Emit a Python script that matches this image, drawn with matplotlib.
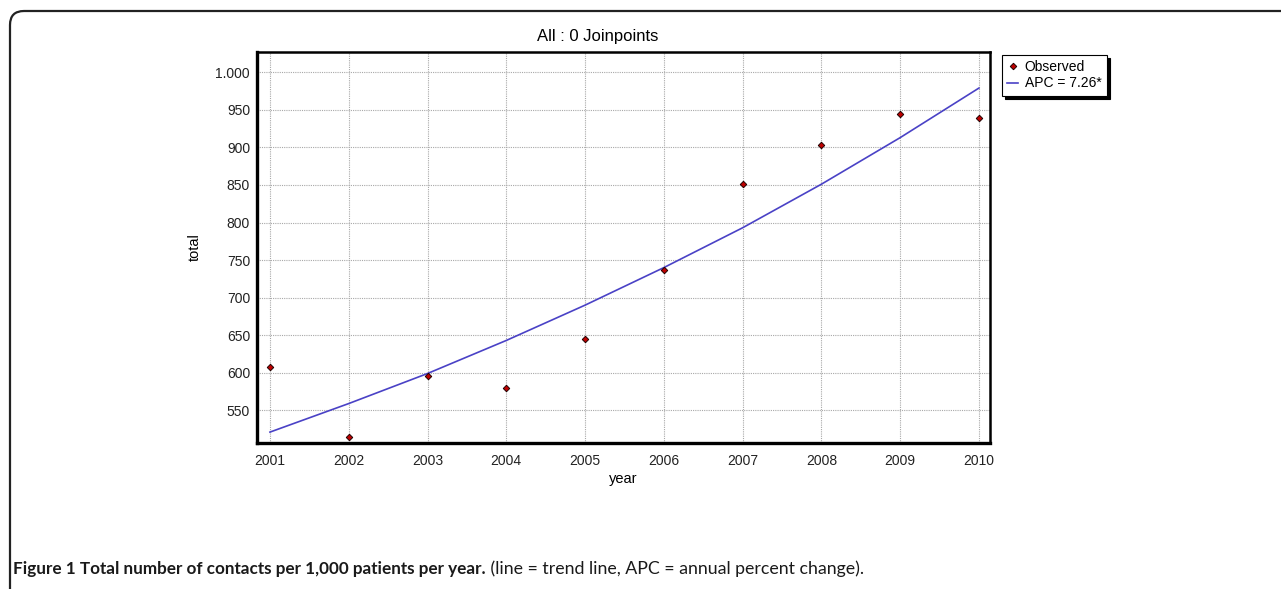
import matplotlib
matplotlib.use("Agg")
import matplotlib.pyplot as plt
from matplotlib.patches import FancyBboxPatch

# Observed contacts per 1,000 patients and the fitted trend (APC = 7.26%)
years = [2001, 2002, 2003, 2004, 2005, 2006, 2007, 2008, 2009, 2010]
observed = [607, 515, 596, 580, 645, 737, 851, 903, 944, 939]
trend = [521, 559, 599, 643, 690, 740, 793, 851, 913, 979]
y_ticks = [550, 600, 650, 700, 750, 800, 850, 900, 950, 1000]
y_tick_labels = ["550", "600", "650", "700", "750", "800", "850", "900", "950", "1.000"]

title_str = "All : 0 Joinpoints"
caption_bold = "Figure 1 Total number of contacts per 1,000 patients per year."
caption_rest = " (line = trend line, APC = annual percent change)."

plt.rcParams["font.family"] = ["Liberation Sans", "DejaVu Sans"]

fig = plt.figure(figsize=(12.81, 5.89), dpi=100)
ax = fig.add_axes([0.2006, 0.2479, 0.5722, 0.6638])

# Rounded page frame, open towards the right and bottom edges
frame = FancyBboxPatch((10, -40), 1400, 618, boxstyle="round,pad=0,rounding_size=14",
                       transform=None, fill=False, edgecolor="#222222", linewidth=1.6)
fig.patches.append(frame)

ax.grid(True, which="major", axis="both", linestyle=(0, (1, 1)), linewidth=0.8, color="#a8a8a8")
ax.set_axisbelow(True)

ax.plot(years, trend, color="#4a42c6", linewidth=1.2, label="APC = 7.26*", zorder=2)
ax.plot(years, observed, linestyle="none", marker="D", markersize=3.3,
        markerfacecolor="#c00000", markeredgecolor="#200000", markeredgewidth=0.7,
        label="Observed", zorder=3)

ax.set_xlim(2000.835, 2010.14)
ax.set_ylim(506.5, 1027)
ax.set_xticks(years)
ax.set_xticklabels([str(y) for y in years])
ax.set_yticks(y_ticks)
ax.set_yticklabels(y_tick_labels)
ax.tick_params(length=0, labelsize=10, colors="#222222")
ax.tick_params(axis="y", pad=5)
ax.tick_params(axis="x", pad=8)

for side in ["left", "bottom"]:
    ax.spines[side].set_linewidth(2.4)
for side in ["top", "right"]:
    ax.spines[side].set_linewidth(1.8)

fig.text(598 / 1281, 1 - 37 / 589, title_str, fontsize=12, ha="center", va="center")
ax.set_xlabel("year", fontsize=10.5, labelpad=3)
ax.set_ylabel("total", fontsize=10.5, labelpad=10)

# Legend in its own boxed panel to the right of the plot
handles, labels = ax.get_legend_handles_labels()
leg = ax.legend(handles[::-1], labels[::-1], loc="upper left", bbox_to_anchor=(0.782, 0.907),
                bbox_transform=fig.transFigure, borderaxespad=0, fancybox=False,
                shadow={"color": "black", "alpha": 1.0}, fontsize=10, handlelength=0.8,
                handletextpad=0.45, borderpad=0.4, labelspacing=0.15, framealpha=1)
leg.get_frame().set_edgecolor("black")
leg.get_frame().set_linewidth(0.8)

# Caption: bold heading followed by plain note
cap = fig.text(0.0102, 0.0255, caption_bold, fontsize=12.3, fontweight="bold",
               family=["Lato", "Liberation Sans"], color="#1a1a1a")
fig.canvas.draw()
bb = cap.get_window_extent()
fig.text(bb.x1 / fig.bbox.width, 0.0255, caption_rest, fontsize=12.8,
         family=["Lato", "Liberation Sans"], color="#1a1a1a")

fig.savefig("out.png", dpi=100)
